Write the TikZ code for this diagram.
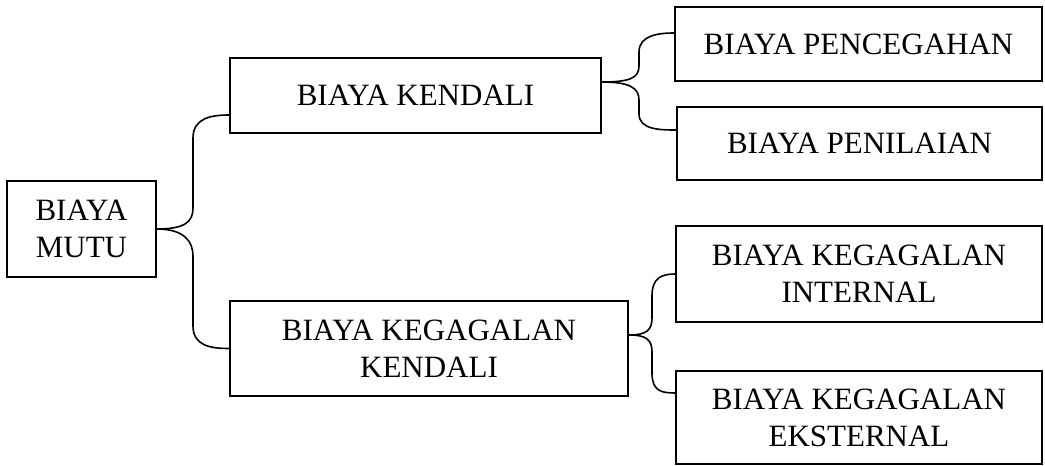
\documentclass[tikz,border=0pt]{standalone}
\usepackage{fontspec}
\setmainfont{Liberation Serif}
\begin{document}
\begin{tikzpicture}[x=1pt,y=-1pt,
  box/.style={draw, line width=1.6pt, inner sep=0pt, align=center,
    font=\fontsize{31}{37}\selectfont},
  brace/.style={draw, line width=1.6pt}]
\useasboundingbox (0,0) rectangle (1045,466);
\node[box, minimum width=149pt, minimum height=96pt] (mutu) at (81.5,229) {BIAYA\\MUTU};
\node[box, minimum width=371pt, minimum height=75pt] (kendali) at (415.5,95.5) {BIAYA KENDALI};
\node[box, minimum width=398pt, minimum height=95pt] (gagal) at (429,348.5) {BIAYA KEGAGALAN\\KENDALI};
\node[box, minimum width=367pt, minimum height=74pt] (cegah) at (858.5,44) {BIAYA PENCEGAHAN};
\node[box, minimum width=365pt, minimum height=73pt] (nilai) at (859.5,143.5) {BIAYA PENILAIAN};
\node[box, minimum width=366pt, minimum height=96pt] (intern) at (859,274) {BIAYA KEGAGALAN\\INTERNAL};
\node[box, minimum width=366pt, minimum height=93pt] (ekstern) at (859,417.5) {BIAYA KEGAGALAN\\EKSTERNAL};
% brace from BIAYA MUTU
\draw[brace] (mutu.east) .. controls +(28,0) and +(0,14) .. (193,208) -- (193,138)
  .. controls +(0,-20) and +(-18,0) .. ([yshift=-19.5pt]kendali.west);
\draw[brace] (mutu.east) .. controls +(28,0) and +(0,-14) .. (193,256) -- (193,326)
  .. controls +(0,20) and +(-18,0) .. (gagal.west);
% brace from BIAYA KENDALI
\draw[brace] ([yshift=13.5pt]kendali.east) .. controls +(28,0) and +(0,12) .. (639,66) -- (639,52)
  .. controls +(0,-17) and +(-15,0) .. ([yshift=11pt]cegah.west);
\draw[brace] ([yshift=13.5pt]kendali.east) .. controls +(28,0) and +(0,-12) .. (639,100) -- (639,114)
  .. controls +(0,16) and +(-15,0) .. ([yshift=13.5pt]nilai.west);
% brace from BIAYA KEGAGALAN KENDALI
\draw[brace] ([yshift=13.5pt]gagal.east) .. controls +(18,0) and +(0,12) .. (652,318) -- (652,296)
  .. controls +(0,-18) and +(-14,0) .. (intern.west);
\draw[brace] ([yshift=13.5pt]gagal.east) .. controls +(18,0) and +(0,-12) .. (652,352) -- (652,373)
  .. controls +(0,18) and +(-14,0) .. ([yshift=24.5pt]ekstern.west);
\end{tikzpicture}
\end{document}
